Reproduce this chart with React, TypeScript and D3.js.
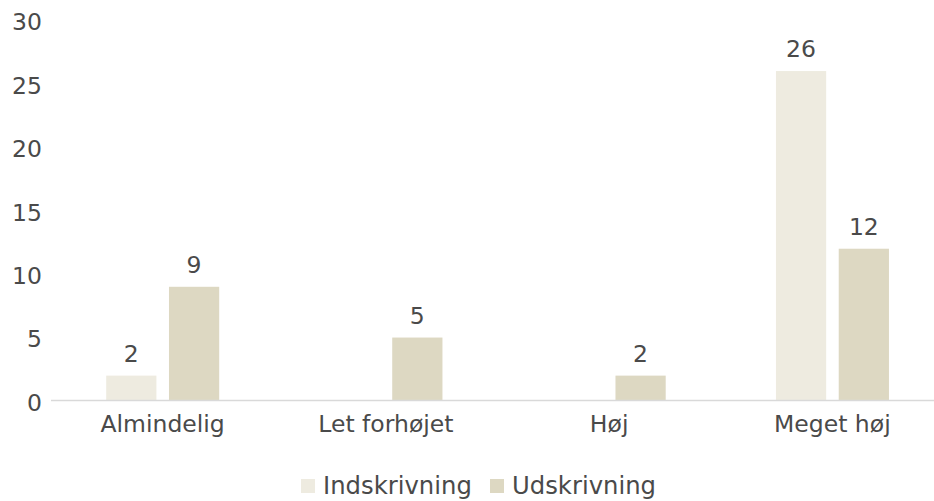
import React from "react";
import { scaleBand, scaleLinear } from "d3";

const categories = ["Almindelig", "Let forhøjet", "Høj", "Meget høj"];
const seriesNames = ["Indskrivning", "Udskrivning"];
const indskrivning = [2, 0, 0, 26];
const udskrivning = [9, 5, 2, 12];
const yTicks = [0, 5, 10, 15, 20, 25, 30];
const colors = ["#EEEBE0", "#DDD8C2"];

const width = 934;
const height = 501;
const textColor = "#4a4a4a";
const fontFamily = "Verdana, 'DejaVu Sans', sans-serif";
const fontSize = 23.5;

export default function App() {
  const series = [indskrivning, udskrivning];

  const xScale = scaleBand<string>().domain(categories).range([51, 944]);
  const groupScale = scaleBand<string>()
    .domain(seriesNames)
    .range([55.2, 168.2])
    .paddingInner(0.2);
  const yScale = scaleLinear().domain([0, 30]).range([401, 20.3]);

  return (
    <svg
      width={width}
      height={height}
      style={{ position: "absolute", left: 0, top: 0, display: "block", background: "#fff" }}
      fontFamily={fontFamily}
    >
      {/* y tick labels */}
      {yTicks.map((t) => (
        <text
          key={t}
          x={42}
          y={yScale(t)}
          dy="0.42em"
          textAnchor="end"
          fontSize={fontSize}
          fill={textColor}
        >
          {t}
        </text>
      ))}

      {/* bars */}
      {categories.map((c, i) => (
        <g key={c} transform={`translate(${xScale(c)},0)`}>
          {seriesNames.map((s, j) => {
            const v = series[j][i];
            const x = groupScale(s) as number;
            return (
              <g key={s}>
                {v > 0 && (
                  <rect
                    x={x}
                    y={yScale(v)}
                    width={groupScale.bandwidth()}
                    height={yScale(0) - yScale(v)}
                    fill={colors[j]}
                  />
                )}
                {v > 0 && (
                  <text
                    x={x + groupScale.bandwidth() / 2}
                    y={yScale(v) - 14}
                    textAnchor="middle"
                    fontSize={fontSize}
                    fill={textColor}
                  >
                    {v}
                  </text>
                )}
              </g>
            );
          })}
          <text
            x={xScale.bandwidth() / 2}
            y={432}
            textAnchor="middle"
            fontSize={fontSize}
            fill={textColor}
          >
            {c}
          </text>
        </g>
      ))}

      {/* baseline */}
      <line x1={51} x2={width} y1={400.5} y2={400.5} stroke="#D9D9D9" strokeWidth={1.5} />

      {/* legend */}
      {seriesNames.map((s, j) => {
        const lx = j === 0 ? 301 : 490;
        return (
          <g key={s} transform={`translate(${lx},0)`}>
            <rect x={0} y={479} width={14} height={14} fill={colors[j]} />
            <text x={22} y={494} fontSize={24.3} fill={textColor}>
              {s}
            </text>
          </g>
        );
      })}
    </svg>
  );
}
